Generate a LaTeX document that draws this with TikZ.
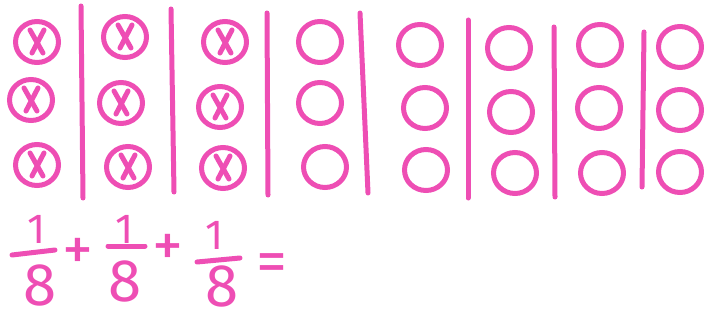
\documentclass[tikz,border=0pt]{standalone}
\usepackage{fontspec}
\setmainfont{Fira Sans}
\usetikzlibrary{shapes.geometric}
\definecolor{pen}{RGB}{238,78,180}
\begin{document}
\begin{tikzpicture}[x=1pt,y=-1pt,
  ring/.style={draw=pen,line width=5pt,ellipse,inner sep=0pt,minimum width=43pt,minimum height=41pt},
  stroke/.style={draw=pen,line width=5pt,line cap=round},
  big/.style={text=pen,inner sep=0pt,font=\fontsize{60}{60}\selectfont},
  one/.style={text=pen,inner sep=0pt,font=\fontsize{42}{42}\selectfont},
  sym/.style={text=pen,inner sep=0pt,font=\fontsize{62}{62}\selectfont}]
\useasboundingbox (0,0) rectangle (704,321);
% circles
\foreach \n/\x/\y in {a1/37/42,a2/31/100,a3/37/165,
  b1/125/37,b2/121/103,b3/128/167,
  c1/225/42,c2/220/107,c3/223/168,
  d1/320/42,d2/320/103,d3/325/167,
  e1/420/45,e2/425/108,e3/426/170,
  f1/509/48,f2/511/112,f3/515/173,
  g1/600/45,g2/599/108,g3/602/173,
  h1/680/47,h2/680/110,h3/680/172}
  {\node[ring] (\n) at (\x,\y) {};}
% crosses
\foreach \n in {a1,a2,a3,b1,b2,b3,c1,c2,c3}{
  \draw[stroke] ([shift={(-7,-12)}]\n.center) -- ([shift={(6,11)}]\n.center);
  \draw[stroke] ([shift={(7,-12)}]\n.center) -- ([shift={(-5,11)}]\n.center);
}
% dividers
\draw[stroke] (81,6) -- (83,198);
\draw[stroke] (171,9) -- (174,192);
\draw[stroke] (267,13) -- (268,195);
\draw[stroke] (360,13) -- (368,193);
\draw[stroke] (468,20) -- (468,198);
\draw[stroke] (554,27) -- (555,197);
\draw[stroke] (644,32) -- (642,187);
% fractions
\node[one] (n1) at (37,229) {1};
\draw[stroke] (12,255) -- (55,250);
\node[big] (d1t) at (40,285) {8};
\node[sym] (p1) at (78,254) {+};
\node[one] (n2) at (125,229) {1};
\draw[stroke] (108,246) -- (145,246);
\node[big] (d2t) at (125,281) {8};
\node[sym] (p2) at (168,250) {+};
\node[one] (n3) at (215,235) {1};
\draw[stroke] (197,262) -- (240,258);
\node[big] (d3t) at (222,286) {8};
\node[sym] (eq) at (272,268) {=};
\end{tikzpicture}
\end{document}
